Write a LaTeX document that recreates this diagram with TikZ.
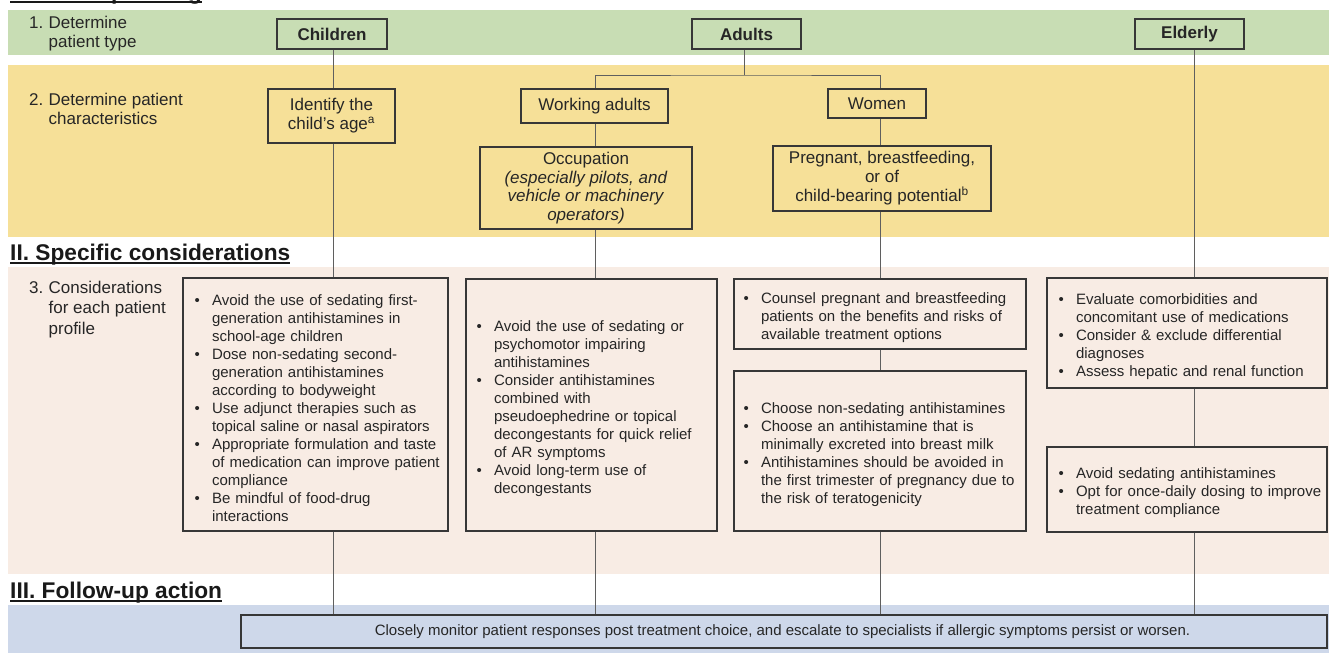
\documentclass[tikz,border=0pt]{standalone}
\usepackage{fontspec}
\setmainfont{Liberation Sans}
\definecolor{greenband}{RGB}{200,221,180}
\definecolor{yellowband}{RGB}{246,224,152}
\definecolor{pinkband}{RGB}{248,236,228}
\definecolor{blueband}{RGB}{206,216,234}
\definecolor{boxline}{RGB}{55,55,55}
\definecolor{linkgray}{RGB}{95,95,95}
\definecolor{txt}{RGB}{38,38,38}
% one bullet point with hanging indent; lines inside are broken with \newline
\newcommand{\bitem}[1]{\par\noindent\hangindent=17.5pt\hangafter=1\makebox[17.5pt][l]{\textbullet}#1\par}
\tikzset{
  lvlone/.style={draw=boxline, line width=1.3pt, text=txt, font=\fontsize{17}{19}\selectfont\bfseries, inner sep=0pt},
  lvltwo/.style={draw=boxline, line width=1.3pt, text=txt, fill=yellowband, font=\fontsize{17}{19}\selectfont, align=center, inner sep=0pt},
  infobox/.style={draw=boxline, line width=1.3pt, fill=pinkband, inner sep=0pt},
  infotext/.style={text=txt, font=\fontsize{15}{18}\selectfont, text width=300pt, inner sep=0pt, anchor=west,
    execute at begin node={\raggedright\parskip=0pt}},
  link/.style={draw=linkgray, line width=0.9pt},
  heading/.style={text=black!90, font=\fontsize{22.7}{26}\selectfont\bfseries, inner sep=0pt, anchor=base west},
  steplabel/.style={text=txt, font=\fontsize{17}{19}\selectfont, inner sep=0pt, anchor=base west},
  uline/.style={line width=1.8pt, black!90},
}
\begin{document}
\begin{tikzpicture}[x=1pt,y=-1pt]
\useasboundingbox (0,0) rectangle (1329,653);
\clip (0,0) rectangle (1329,653);
\fill[white] (0,0) rectangle (1329,653);

% section bands
\fill[greenband]  (8,10)  rectangle (1329,55);
\fill[yellowband] (8,65)  rectangle (1329,237);
\fill[pinkband]   (8,267) rectangle (1329,574);
\fill[blueband]   (8,605) rectangle (1329,653);

% section headings
\node[heading] (h1) at (10,-1) {I. Patient profiling};
\draw[uline] ([yshift=-3pt]h1.base west) -- ([yshift=-3pt]h1.base east);
\node[heading] (h2) at (10,260) {II. Specific considerations};
\draw[uline] ([yshift=-3pt]h2.base west) -- ([yshift=-3pt]h2.base east);
\node[heading] (h3) at (10,598) {III. Follow-up action};
\draw[uline] ([yshift=-3pt]h3.base west) -- ([yshift=-3pt]h3.base east);

% step labels
\node[steplabel] (s1) at (29,28) {\begin{tabular}[t]{@{}p{19.5pt}@{}l@{}}1.&Determine\\&patient type\end{tabular}};
\node[steplabel] (s2) at (29,105) {\begin{tabular}[t]{@{}p{19.5pt}@{}l@{}}2.&Determine patient\\&characteristics\end{tabular}};
\node[steplabel, font=\fontsize{17}{20.5}\selectfont] (s3) at (29,293) {\begin{tabular}[t]{@{}p{19.5pt}@{}l@{}}3.&Considerations\\&for each patient\\&profile\end{tabular}};

% connector columns
\coordinate (colC) at (333,0);
\coordinate (colA) at (744,0);
\coordinate (colW) at (595,0);
\coordinate (colF) at (880,0);
\coordinate (colE) at (1194,0);
\coordinate (fork) at (744,75);

% patient types
\node[lvlone, fill=greenband, minimum width=110pt, minimum height=30pt] (children) at (332,34) {Children};
\node[lvlone, fill=greenband, minimum width=109pt, minimum height=30pt] (adults) at (746.5,34) {Adults};
\node[lvlone, fill=greenband, minimum width=109pt, minimum height=30pt] (elderly) at (1189.5,34) {Elderly};

% patient characteristics
\node[lvltwo, minimum width=127pt, minimum height=54pt] (identify) at (331.5,116) {Identify the\\child's age\textsuperscript{a}};
\node[lvltwo, minimum width=147pt, minimum height=34pt] (working) at (594.5,106) {Working adults};
\node[lvltwo, minimum width=98pt, minimum height=29pt] (women) at (877,103.5) {Women};
\node[lvltwo, minimum width=212pt, minimum height=82pt, font=\fontsize{17}{18.7}\selectfont] (occ) at (586,188) {Occupation\\\textit{(especially pilots, and}\\\textit{vehicle or machinery}\\\textit{operators)}};
\node[lvltwo, minimum width=218pt, minimum height=65pt] (preg) at (882,178.5) {Pregnant, breastfeeding,\\or of\\child-bearing potential\textsuperscript{b}};

% consideration boxes
\node[infobox, minimum width=265pt, minimum height=253pt] (cbox) at (315.5,404.5) {};
\node[infotext] (ctext) at ([xshift=12pt]cbox.west) {%
\bitem{Avoid the use of sedating first-\newline generation antihistamines in\newline school-age children}%
\bitem{Dose non-sedating second-\newline generation antihistamines\newline according to bodyweight}%
\bitem{Use adjunct therapies such as\newline topical saline or nasal aspirators}%
\bitem{Appropriate formulation and taste\newline of medication can improve patient\newline compliance}%
\bitem{Be mindful of food-drug\newline interactions}};

\node[infobox, minimum width=251pt, minimum height=252pt] (wbox) at (591.5,405) {};
\node[infotext] (wtext) at ([xshift=11pt]wbox.west) {%
\bitem{Avoid the use of sedating or\newline psychomotor impairing\newline antihistamines}%
\bitem{Consider antihistamines\newline combined with\newline pseudoephedrine or topical\newline decongestants for quick relief\newline of AR symptoms}%
\bitem{Avoid long-term use of\newline decongestants}};

\node[infobox, minimum width=292pt, minimum height=70pt] (fbox1) at (880,314) {};
\node[infotext] (ftext1) at ([xshift=10pt]fbox1.west) {%
\bitem{Counsel pregnant and breastfeeding\newline patients on the benefits and risks of\newline available treatment options}};

\node[infobox, minimum width=292pt, minimum height=160pt] (fbox2) at (880,451) {};
\node[infotext] (ftext2) at ([xshift=10pt]fbox2.west) {%
\bitem{Choose non-sedating antihistamines}%
\bitem{Choose an antihistamine that is\newline minimally excreted into breast milk}%
\bitem{Antihistamines should be avoided in\newline the first trimester of pregnancy due to\newline the risk of teratogenicity}};

\node[infobox, minimum width=280pt, minimum height=110pt] (ebox1) at (1187,333) {};
\node[infotext] (etext1) at ([xshift=12pt]ebox1.west) {%
\bitem{Evaluate comorbidities and\newline concomitant use of medications}%
\bitem{Consider \& exclude differential\newline diagnoses}%
\bitem{Assess hepatic and renal function}};

\node[infobox, minimum width=280pt, minimum height=85pt] (ebox2) at (1187,489.5) {};
\node[infotext] (etext2) at ([xshift=12pt]ebox2.west) {%
\bitem{Avoid sedating antihistamines}%
\bitem{Opt for once-daily dosing to improve\newline treatment compliance}};

% follow-up
\node[draw=boxline, line width=1.3pt, fill=blueband, minimum width=1086pt, minimum height=33pt, inner sep=0pt] (follow) at (784,631.5) {};
\node[text=txt, font=\fontsize{15}{18}\selectfont, inner sep=0pt] (ftext) at (782.5,631.5) {Closely monitor patient responses post treatment choice, and escalate to specialists if allergic symptoms persist or worsen.};

% connectors: children
\draw[link] (colC |- children.south) -- (colC |- identify.north);
\draw[link] (colC |- identify.south) -- (colC |- cbox.north);
\draw[link] (colC |- cbox.south) -- (colC |- follow.north);
% connectors: adults
\draw[link] (colA |- adults.south) -- (fork);
\draw[link] (colW |- working.north) |- (fork) -| (colF |- women.north);
\draw[link] (colW |- working.south) -- (colW |- occ.north);
\draw[link] (colW |- occ.south) -- (colW |- wbox.north);
\draw[link] (colW |- wbox.south) -- (colW |- follow.north);
\draw[link] (colF |- women.south) -- (colF |- preg.north);
\draw[link] (colF |- preg.south) -- (colF |- fbox1.north);
\draw[link] (colF |- fbox1.south) -- (colF |- fbox2.north);
\draw[link] (colF |- fbox2.south) -- (colF |- follow.north);
% connectors: elderly
\draw[link] (colE |- elderly.south) -- (colE |- ebox1.north);
\draw[link] (colE |- ebox1.south) -- (colE |- ebox2.north);
\draw[link] (colE |- ebox2.south) -- (colE |- follow.north);
\end{tikzpicture}
\end{document}
